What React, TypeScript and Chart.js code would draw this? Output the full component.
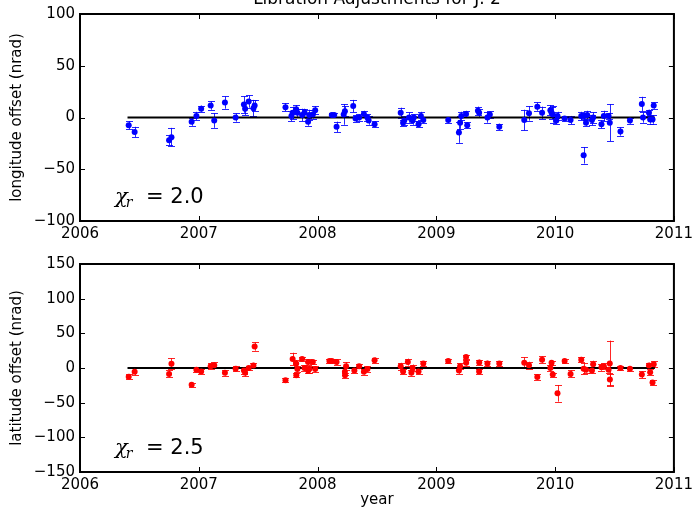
import { useEffect, useRef } from 'react';
import { Chart, registerables } from 'chart.js';

Chart.register(...registerables);
Chart.defaults.font.family = '"DejaVu Sans", sans-serif';
Chart.defaults.color = '#000';

// longitude offsets (nrad) per epoch, with 1-sigma errors
const lonYears = [
  2006.41, 2006.46, 2006.75, 2006.77, 2006.94, 2006.98, 2007.02, 2007.10, 2007.13, 2007.22,
  2007.31, 2007.38, 2007.39, 2007.42, 2007.46, 2007.47, 2007.73, 2007.78, 2007.79, 2007.82,
  2007.83, 2007.87, 2007.89, 2007.92, 2007.93, 2007.96, 2007.98, 2008.12, 2008.14, 2008.16,
  2008.22, 2008.23, 2008.30, 2008.32, 2008.35, 2008.39, 2008.42, 2008.43, 2008.48, 2008.70,
  2008.72, 2008.73, 2008.77, 2008.80, 2008.81, 2008.85, 2008.87, 2008.89, 2009.10, 2009.19,
  2009.20, 2009.21, 2009.25, 2009.26, 2009.35, 2009.36, 2009.43, 2009.45, 2009.53, 2009.74,
  2009.78, 2009.85, 2009.89, 2009.96, 2009.97, 2009.98, 2010.01, 2010.02, 2010.08, 2010.13,
  2010.22, 2010.24, 2010.245, 2010.26, 2010.27, 2010.31, 2010.32, 2010.39, 2010.41, 2010.45,
  2010.46, 2010.55, 2010.63, 2010.73, 2010.74, 2010.79, 2010.80, 2010.82, 2010.83,
];
const lonValues = [
  -7.5, -14, -22, -19, -4, 1.5, 8.5, 11.5, -3, 14.5,
  0, 12.5, 8.5, 15.5, 9, 11.5, 10, 1.5, 4.5, 8,
  4.5, 2.5, 4.5, -4, 2.5, 3, 7, 2.5, 2.5, -9,
  3, 6, 11, -1, 0, 3.5, 0, -3, -6.5, 4.5,
  -5, -3, 0, -3, 0, -6.5, 1.5, -2.5, -2.5, -14.5,
  -5, 1.5, 3.5, -7.5, 6.5, 4.5, 0, 3, -9, -2.5,
  4, 10.5, 4.5, 7, 4.5, 3, -3, 1.5, -1, -2.5,
  1.5, -36.5, 1.5, -5, 2.5, -2.5, 0, -6.5, 1.5, 1.5,
  -5, -13.5, -3, 13, 0, 4.5, -2, -2, 11.5,
];
const lonErrors = [
  4, 5, 5, 9, 4, 4, 3, 4, 7, 6,
  4, 8, 6, 6, 8, 5, 4, 5, 6, 4,
  4, 6, 4, 4, 5, 4, 4, 2, 2, 5,
  10, 5, 6, 3, 3, 3, 3, 4, 3, 5,
  3, 4, 5, 4, 3, 3, 4, 3, 3, 10,
  6, 4, 3, 3, 4, 4, 5, 3, 3, 10,
  7, 4, 6, 5, 6, 8, 3, 4, 2, 4,
  4, 8, 3, 3, 4, 5, 5, 4, 5, 3,
  18, 4, 3, 7, 5, 3, 4, 4, 3,
];

// latitude offsets (nrad) per epoch, with 1-sigma errors
const latYears = [
  2006.41, 2006.46, 2006.75, 2006.77, 2006.94, 2006.98, 2007.02, 2007.10, 2007.13, 2007.22,
  2007.31, 2007.38, 2007.39, 2007.42, 2007.46, 2007.47, 2007.73, 2007.79, 2007.82, 2007.821,
  2007.83, 2007.87, 2007.89, 2007.92, 2007.921, 2007.93, 2007.96, 2007.98, 2008.10, 2008.12,
  2008.16, 2008.23, 2008.231, 2008.24, 2008.31, 2008.35, 2008.39, 2008.42, 2008.48, 2008.70,
  2008.72, 2008.76, 2008.79, 2008.80, 2008.85, 2008.89, 2009.10, 2009.19, 2009.20, 2009.25,
  2009.251, 2009.36, 2009.361, 2009.43, 2009.53, 2009.74, 2009.78, 2009.85, 2009.89, 2009.96,
  2009.97, 2009.98, 2010.02, 2010.08, 2010.13, 2010.22, 2010.24, 2010.26, 2010.31, 2010.32,
  2010.39, 2010.41, 2010.45, 2010.46, 2010.461, 2010.55, 2010.63, 2010.73, 2010.79, 2010.80,
  2010.82, 2010.83,
];
const latValues = [
  -12.5, -5.5, -8.5, 6, -24, -2.5, -5, 2.5, 4, -7,
  -1, -3.5, -7, 0, 3.5, 31, -17.5, 13, 6.5, -10.5,
  -1.5, 13, 0, 8.5, -3.5, -1.5, 8.5, -1.5, 10, 10,
  8.5, -5.5, -10.5, 2.5, -3.5, 2.5, -5.5, -1.5, 11, 2.5,
  -5, 8.5, -7, 0, -5, 6.5, 10, -3.5, 2.5, 16,
  7.5, -5, 8, 6.5, 6.5, 7.5, 4, -13, 12, 0,
  7.5, -9.5, -36.5, 10, -8.5, 12, -1, -2.5, -3.5, 5.5,
  1, 2.5, -2.5, 6.5, -16.5, 0, -1, -9.5, 3.5, -6,
  -21, 5.5,
];
const latErrors = [
  4, 5, 5, 8, 3, 3, 3, 4, 4, 4,
  4, 5, 5, 3, 4, 6, 3, 9, 5, 3,
  4, 3, 4, 4, 4, 5, 3, 4, 3, 3,
  4, 5, 4, 6, 3, 3, 4, 4, 4, 5,
  4, 5, 4, 5, 3, 3, 3, 5, 4, 3,
  4, 3, 4, 4, 3, 8, 5, 4, 5, 5,
  3, 3, 12, 3, 5, 4, 8, 4, 4, 5,
  5, 4, 4, 33, 8, 3, 3, 5, 4, 4,
  3, 4,
];

// zero reference line
const refYears = [2006.4, 2010.84];
const refValues = [0, 0];

const yearTicks = [2006, 2007, 2008, 2009, 2010, 2011];
const lonTicks = [-100, -50, 0, 50, 100];
const latTicks = [-150, -100, -50, 0, 50, 100, 150];

interface PanelProps {
  top: number;
  height: number;
  padTop: number;
  xHeight: number;
  years: number[];
  values: number[];
  errors: number[];
  color: string;
  barColor: string;
  yTicks: number[];
  ylabel: string;
  chi: string;
  title?: string;
  xlabel?: string;
}

function Panel(p: PanelProps) {
  const canvasRef = useRef<HTMLCanvasElement>(null);

  useEffect(() => {
    if (!canvasRef.current) return;

    const decor = {
      id: 'decor',
      beforeDatasetsDraw(chart: any) {
        const { ctx, scales } = chart;
        ctx.save();
        ctx.strokeStyle = p.barColor;
        ctx.lineWidth = 1;
        p.years.forEach((yr, i) => {
          const px = Math.round(scales.x.getPixelForValue(yr)) + 0.5;
          const hi = scales.y.getPixelForValue(p.values[i] + p.errors[i]);
          const lo = scales.y.getPixelForValue(p.values[i] - p.errors[i]);
          ctx.beginPath();
          ctx.moveTo(px, hi);
          ctx.lineTo(px, lo);
          ctx.moveTo(px - 3.5, Math.round(hi) + 0.5);
          ctx.lineTo(px + 3.5, Math.round(hi) + 0.5);
          ctx.moveTo(px - 3.5, Math.round(lo) + 0.5);
          ctx.lineTo(px + 3.5, Math.round(lo) + 0.5);
          ctx.stroke();
        });
        ctx.restore();
      },
      afterDraw(chart: any) {
        const { ctx, chartArea: a, scales } = chart;
        ctx.save();
        ctx.strokeStyle = '#000';
        ctx.lineWidth = 1;
        ctx.beginPath();
        scales.x.ticks.forEach((t: any) => {
          const px = Math.round(scales.x.getPixelForValue(t.value)) + 0.5;
          ctx.moveTo(px, a.top);
          ctx.lineTo(px, a.top + 5);
          ctx.moveTo(px, a.bottom);
          ctx.lineTo(px, a.bottom - 5);
        });
        scales.y.ticks.forEach((t: any) => {
          const py = Math.round(scales.y.getPixelForValue(t.value)) + 0.5;
          ctx.moveTo(a.left, py);
          ctx.lineTo(a.left + 5, py);
          ctx.moveTo(a.right, py);
          ctx.lineTo(a.right - 5, py);
        });
        ctx.stroke();
        ctx.lineWidth = 2;
        ctx.strokeRect(a.left, a.top, a.right - a.left, a.bottom - a.top);

        ctx.fillStyle = '#000';
        // y-axis label
        ctx.save();
        ctx.translate(17, (a.top + a.bottom) / 2);
        ctx.rotate(-Math.PI / 2);
        ctx.font = '15px "DejaVu Sans"';
        ctx.textAlign = 'center';
        ctx.textBaseline = 'middle';
        ctx.fillText(p.ylabel, 0, 0);
        ctx.restore();

        // reduced chi label
        const bx = a.left + 35;
        const by = a.bottom - 18;
        ctx.textAlign = 'left';
        ctx.textBaseline = 'alphabetic';
        ctx.font = 'italic 21px "DejaVu Serif"';
        ctx.fillText('\u03c7', bx, by);
        const cw = ctx.measureText('\u03c7').width;
        ctx.font = 'italic 14px "DejaVu Serif"';
        ctx.fillText('r', bx + cw - 2, by + 4);
        ctx.font = '21px "DejaVu Sans"';
        ctx.fillText('= ' + p.chi, bx + 31, by);

        if (p.title) {
          ctx.font = '17px "DejaVu Sans"';
          ctx.textAlign = 'center';
          ctx.fillText(p.title, (a.left + a.right) / 2, 4);
        }
        if (p.xlabel) {
          ctx.font = '15px "DejaVu Sans"';
          ctx.textAlign = 'center';
          ctx.textBaseline = 'middle';
          ctx.fillText(p.xlabel, (a.left + a.right) / 2, a.bottom + 28);
        }
        ctx.restore();
      },
    };

    const chart = new Chart(canvasRef.current, {
      type: 'scatter',
      data: {
        datasets: [
          {
            data: p.years.map((yr, i) => ({ x: yr, y: p.values[i] })),
            backgroundColor: p.color,
            borderWidth: 0,
            pointRadius: 3,
            order: 1,
          },
          {
            data: refYears.map((yr, i) => ({ x: yr, y: refValues[i] })),
            showLine: true,
            borderColor: '#000',
            borderWidth: 2,
            pointRadius: 0,
            order: 2,
          },
        ],
      },
      options: {
        responsive: false,
        animation: false,
        events: [],
        layout: { padding: { top: p.padTop, right: 22, left: 0, bottom: 0 } },
        plugins: { legend: { display: false }, tooltip: { enabled: false } },
        scales: {
          x: {
            type: 'linear',
            min: yearTicks[0],
            max: yearTicks[yearTicks.length - 1],
            afterBuildTicks: (s: any) => { s.ticks = yearTicks.map((v) => ({ value: v })); },
            afterFit: (s: any) => { s.height = p.xHeight; },
            grid: { display: false, drawTicks: false },
            border: { display: false },
            ticks: { padding: 4, font: { size: 15 }, autoSkip: false, maxRotation: 0, callback: (v: any) => String(v) },
          },
          y: {
            type: 'linear',
            min: p.yTicks[0],
            max: p.yTicks[p.yTicks.length - 1],
            afterBuildTicks: (s: any) => { s.ticks = p.yTicks.map((v) => ({ value: v })); },
            afterFit: (s: any) => { s.width = 80; },
            grid: { display: false, drawTicks: false },
            border: { display: false },
            ticks: { padding: 5, font: { size: 15 }, autoSkip: false, callback: (v: any) => String(v).replace('-', '\u2212') },
          },
        },
      },
      plugins: [decor],
    });

    return () => chart.destroy();
  }, []);

  return (
    <div style={{ position: 'absolute', left: 0, top: p.top, width: 697, height: p.height }}>
      <canvas ref={canvasRef} width={697} height={p.height} style={{ display: 'block' }} />
    </div>
  );
}

export default function App() {
  return (
    <div style={{ position: 'fixed', left: 0, top: 0, width: 697, height: 510, background: '#fff', overflow: 'hidden' }}>
      <Panel
        top={0}
        height={250}
        padTop={12}
        xHeight={29}
        years={lonYears}
        values={lonValues}
        errors={lonErrors}
        color="#0000ff"
        barColor="rgba(0,0,255,0.85)"
        yTicks={lonTicks}
        ylabel="longitude offset (nrad)"
        chi="2.0"
        title="Libration Adjustments for J. 2"
      />
      <Panel
        top={250}
        height={260}
        padTop={14}
        xHeight={38}
        years={latYears}
        values={latValues}
        errors={latErrors}
        color="#ff0000"
        barColor="rgba(255,0,0,0.85)"
        yTicks={latTicks}
        ylabel="latitude offset (nrad)"
        chi="2.5"
        xlabel="year"
      />
    </div>
  );
}
